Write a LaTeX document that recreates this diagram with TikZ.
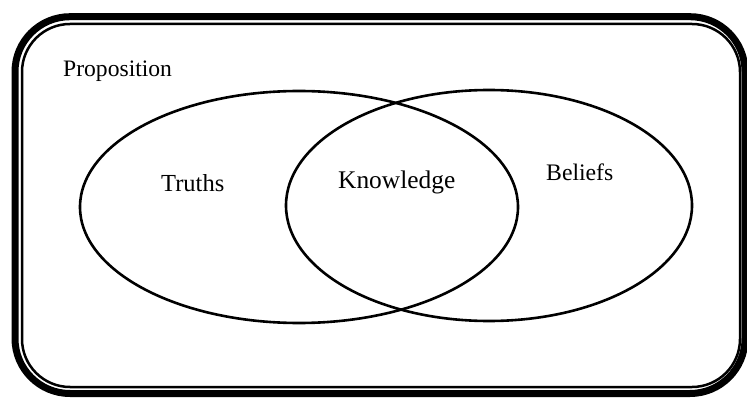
\documentclass[tikz,border=0pt]{standalone}
\usepackage{fontspec}
\setmainfont{Liberation Serif}
\begin{document}
\begin{tikzpicture}[x=1pt,y=-1pt,
  label/.style={inner sep=0pt,anchor=base west},
  setline/.style={line width=2.6pt},
  framethick/.style={line width=7pt,rounded corners=55pt},
  framethin/.style={line width=2.5pt,rounded corners=48pt}]
\useasboundingbox (0,0) rectangle (747,398);
% frame
\draw[framethick] (15,16.7) rectangle (745,393.5);
\draw[framethin] (22,24) rectangle (740,387);
% sets
\draw[setline] (299,207) ellipse [x radius=219, y radius=116];
\draw[setline] (489,205.5) ellipse [x radius=203, y radius=115.5];
% labels
\node[label,font=\fontsize{23.6}{26}\selectfont] (prop) at (63,77) {Proposition};
\node[label,font=\fontsize{24.5}{27}\selectfont] (truths) at (161,191.7) {Truths};
\node[label,font=\fontsize{25.4}{28}\selectfont] (know) at (338,189) {Knowledge};
\node[label,font=\fontsize{23.7}{26}\selectfont] (beliefs) at (546,181) {Beliefs};
\end{tikzpicture}
\end{document}
